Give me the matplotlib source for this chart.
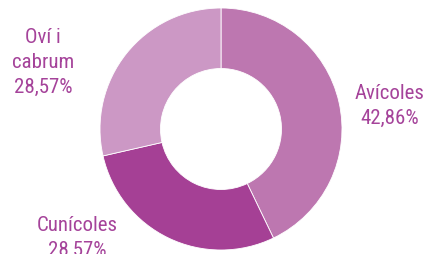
import matplotlib
matplotlib.use('Agg')
from matplotlib import pyplot as plt

categories = ['Avícoles', 'Cunícoles', 'Oví i\ncabrum']
shares = [42.86, 28.57, 28.57]
share_labels = ['42,86%', '28,57%', '28,57%']
colors = ['#bd77b0', '#a54095', '#cc98c5']
text_color = '#a5439a'

W, H = 426, 255
fig = plt.figure(figsize=(W / 100, H / 100), dpi=100)

# donut centre at (221, 130) px, outer radius 121 px
cx, cy, r = 221, 130, 121
ax = fig.add_axes([(cx - r) / W, (H - cy - r) / H, 2 * r / W, 2 * r / H])
ax.pie(shares, colors=colors, startangle=90, counterclock=False,
       radius=1, wedgeprops=dict(width=0.5, edgecolor='white', linewidth=0.6))
ax.set_xlim(-1, 1)
ax.set_ylim(-1, 1)
ax.set_aspect('equal')
ax.axis('off')

font = ['Roboto Condensed', 'Archivo Narrow', 'DejaVu Sans']
# label anchors in pixels: x centre, baseline of first line
label_pos = [(390, 99), (77, 231), (43, 43)]
pitch = 25
for cat, lab, (x, y) in zip(categories, share_labels, label_pos):
    lines = cat.split('\n') + [lab]
    for i, line in enumerate(lines):
        fig.text(x / W, 1 - (y + i * pitch) / H, line, ha='center', va='baseline',
                 fontsize=15, family=font, color=text_color)

fig.savefig('out.png', dpi=100)
